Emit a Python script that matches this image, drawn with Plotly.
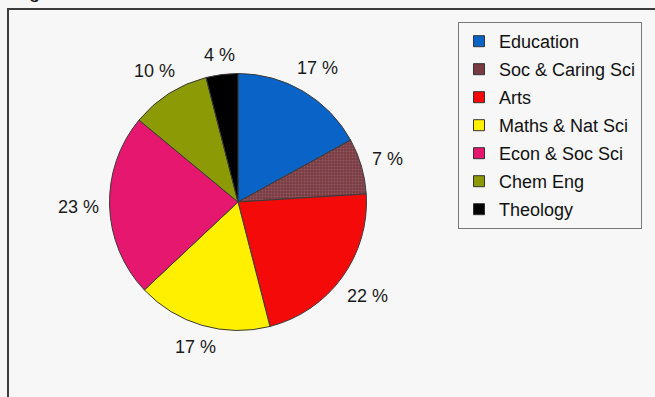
import math
import plotly.graph_objects as go

# ---- data ----
categories = ["Education", "Soc & Caring Sci", "Arts", "Maths & Nat Sci",
              "Econ & Soc Sci", "Chem Eng", "Theology"]
values = [17, 7, 22, 17, 23, 10, 4]
labels_text = [f"{v} %" for v in values]
colors = ["#0a64c8", "#7a3a42", "#f50a0a", "#fff000", "#e6176e", "#8c9a05", "#000000"]

W, H = 655, 397
cx, cy, r = 238.0, 202.0, 128.5
FONT = "Arial, Liberation Sans, sans-serif"

fig = go.Figure()
fig.add_trace(go.Pie(
    labels=categories, values=values, sort=False, direction="clockwise",
    rotation=0, textinfo="none", hoverinfo="label+value", showlegend=False,
    marker=dict(colors=colors, line=dict(color="#3a3a3a", width=1),
                pattern=dict(shape=["", ".", "", "", "", "", ""],
                             fillmode="overlay", fgcolor="#a07a7e",
                             size=3, solidity=0.35)),
    domain=dict(x=[(cx - r) / W, (cx + r) / W], y=[1 - (cy + r) / H, 1 - (cy - r) / H]),
))

# legend entries (one per category, same colours as the slices)
for cat, col in zip(categories, colors):
    fig.add_trace(go.Scatter(
        x=[None], y=[None], mode="markers", name=cat, legendgroup=cat,
        marker=dict(symbol="square", size=11, color=col,
                    line=dict(color="#333333", width=1)),
    ))

# percentage labels placed around the pie from the data angles
cum = 0
for v, t in zip(values, labels_text):
    ang = math.radians(360 * (cum + v / 2) / 100)
    cum += v
    w, h = 10 * len(t), 13
    ext = abs(math.sin(ang)) * w / 2 + abs(math.cos(ang)) * h / 2
    R = r + 11 + ext
    px = cx + R * math.sin(ang)
    py = cy - R * math.cos(ang)
    fig.add_annotation(x=px / W, y=1 - py / H, xref="paper", yref="paper",
                       text=t, showarrow=False, xanchor="center", yanchor="middle",
                       font=dict(family=FONT, size=18, color="#1a1a1a"))

# cropped title fragment at top-left
fig.add_annotation(x=27 / W, y=1 - 4 / H, xref="paper", yref="paper", text="g",
                   showarrow=False, xanchor="left", yanchor="bottom",
                   font=dict(family=FONT, size=20, color="#111111"))

# chart frame (cut by the image edges)
fig.add_shape(type="rect", xref="paper", yref="paper",
              x0=8 / W, x1=1.05, y0=-0.05, y1=1 - 9 / H,
              line=dict(color="#3c3c3c", width=2), fillcolor="rgba(0,0,0,0)")

fig.update_layout(
    width=W, height=H,
    margin=dict(l=0, r=0, t=0, b=0),
    paper_bgcolor="#f7f7f7", plot_bgcolor="#f7f7f7",
    xaxis=dict(visible=False), yaxis=dict(visible=False),
    showlegend=True,
    legend=dict(x=458 / W, y=1 - 22 / H, xanchor="left", yanchor="top",
                bgcolor="#f7f7f7", bordercolor="#7a7a7a", borderwidth=1,
                tracegroupgap=1.6,
                font=dict(family=FONT, size=18, color="#111111")),
)

fig.write_html("out.html")
